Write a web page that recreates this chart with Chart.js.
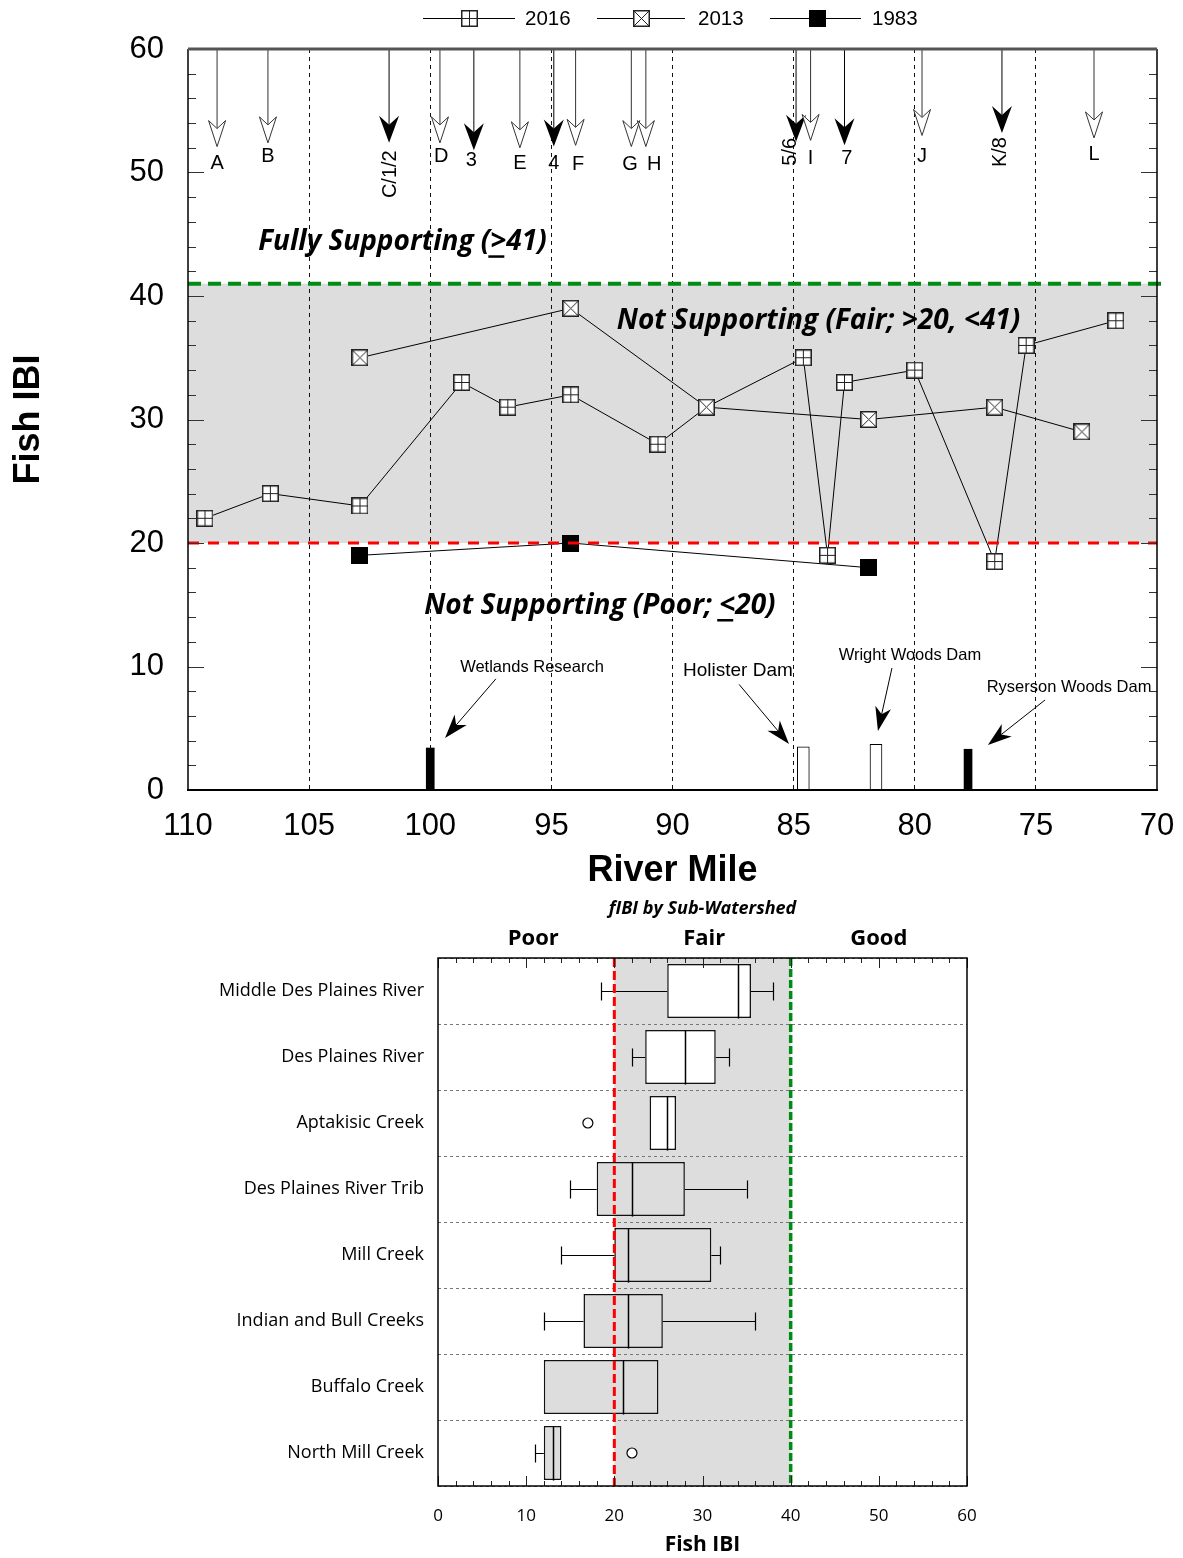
<!DOCTYPE html>
<html><head><meta charset="utf-8"><title>Fish IBI</title>
<script src="https://cdn.jsdelivr.net/npm/chart.js@4.4.1/dist/chart.umd.min.js"></script>
<style>
 html,body{margin:0;padding:0;background:#fff;width:1183px;height:1558px;overflow:hidden}
 canvas{position:absolute;left:0;display:block}
 #c1{top:0} #c2{top:890px}
</style></head><body>
<canvas id="c1" width="1183" height="890"></canvas>
<canvas id="c2" width="1183" height="668"></canvas>
<script>
// ================= DATA : river-mile profile =================
const miles2016 = [109.3, 106.6, 102.9, 98.7, 96.8, 94.2, 90.6, 88.6, 84.6, 83.6, 82.9, 80.0, 76.7, 75.4, 71.7];
const ibi2016   = [22, 24, 23, 33, 31, 32, 28, 31, 35, 19, 33, 34, 18.5, 36, 38];
const miles2013 = [102.9, 94.2, 88.6, 81.9, 76.7, 73.1];
const ibi2013   = [35, 39, 31, 30, 31, 29];
const miles1983 = [102.9, 94.2, 81.9];
const ibi1983   = [19, 20, 18];
const seriesNames = ['2016', '2013', '1983'];

const fairLow = 20, fairHigh = 41;
const zoneText = ['Fully Supporting (>41)', 'Not Supporting (Fair; >20, <41)', 'Not Supporting (Poor; <20)'];
const zoneUnderline = [18, -1, 22];
const zoneMile = [107.1, 92.3, 100.25];
const zoneValue = [43.7, 37.3, 14.25];

const siteLabels = ['A','B','C/1/2','D','3','E','4','F','G','H','5/6','I','7','J','K/8','L'];
const siteMiles  = [108.8,106.7,101.7,99.6,98.2,96.3,94.9,94.0,91.7,91.1,84.9,84.3,82.9,79.7,76.4,72.6];
const siteTips   = [52.1,52.4,52.4,52.4,51.8,52.0,52.1,52.2,52.1,52.1,52.5,52.6,52.2,53.0,53.2,52.8];
const siteFilled = [0,0,1,0,1,0,1,0,0,0,1,0,1,0,1,0];
const siteLabelMiles = [108.8,106.7,101.65,99.55,98.3,96.3,94.9,93.9,91.75,90.75,85.15,84.3,82.8,79.7,76.45,72.6];
const siteLabelValues = [50.77,51.26,51.8,51.26,51.0,50.77,50.77,50.61,50.61,50.61,52.8,51.17,51.17,51.26,52.87,51.42];

const damNames   = ['Wetlands Research', 'Holister Dam', 'Wright Woods Dam', 'Ryserson Woods Dam'];
const damMiles   = [100.0, 84.6, 81.6, 77.8];
const damHeights = [3.4, 3.5, 3.7, 3.3];
const damSolid   = [1, 0, 0, 1];
const damLabelMiles  = [95.8, 87.3, 80.2, 73.63];
const damLabelValues = [9.96, 9.64, 10.93, 8.34];
const damArrowFromMiles  = [97.29, 87.25, 80.94, 74.62];
const damArrowFromValues = [9.0, 8.55, 9.88, 7.29];
const damArrowToMiles    = [99.39, 85.19, 81.52, 76.98];
const damArrowToValues   = [4.21, 3.72, 4.78, 3.64];

// ================= DATA : sub-watershed box plot =================
const watersheds = ['Middle Des Plaines River','Des Plaines River','Aptakisic Creek','Des Plaines River Trib','Mill Creek','Indian and Bull Creeks','Buffalo Creek','North Mill Creek'];
const whiskLow  = [18.5, 22, null, 15, 14, 12, null, 11];
const q1        = [26, 23.5, 24, 18, 20, 16.5, 12, 12];
const median    = [34, 28, 26, 22, 21.5, 21.5, 21, 13];
const q3        = [35.5, 31.5, 27, 28, 31, 25.5, 25, 14];
const whiskHigh = [38, 33, null, 35, 32, 36, null, null];
const outlierGroups = ['Aptakisic Creek', 'North Mill Creek'];
const outlierValues = [17, 22];
const classLabels = ['Poor', 'Fair', 'Good'];
const classCenters = [10.8, 30.2, 50];
const boxFairLow = 20, boxFairHigh = 40;

// ================= helpers =================
const SANS = '"Liberation Sans", Arial, sans-serif';
const OPEN = '"Open Sans", sans-serif';
const BAND = '#dcdddc';

function marker(kind) {
  const s = 17, c = document.createElement('canvas');
  c.width = s; c.height = s;
  const g = c.getContext('2d');
  if (kind === 'solid') { g.fillStyle = '#000'; g.fillRect(0, 0, s, s); return c; }
  g.fillStyle = '#fff'; g.fillRect(1, 1, s - 2, s - 2);
  g.strokeStyle = '#222'; g.lineWidth = 1.5; g.strokeRect(0.75, 0.75, s - 1.5, s - 1.5);
  g.lineWidth = 1; g.beginPath();
  if (kind === 'plus') { g.moveTo(8.5, 1); g.lineTo(8.5, s - 1); g.moveTo(1, 8.5); g.lineTo(s - 1, 8.5); }
  else { g.moveTo(1, 1); g.lineTo(s - 1, s - 1); g.moveTo(s - 1, 1); g.lineTo(1, s - 1); }
  g.stroke();
  return c;
}
const mkPlus = marker('plus'), mkCross = marker('cross'), mkSolid = marker('solid');
const markers = [mkPlus, mkCross, mkSolid];

function stealth(ctx, x1, y1, x2, y2, len, half, notch, filled) {
  const ang = Math.atan2(y2 - y1, x2 - x1);
  const ux = Math.cos(ang), uy = Math.sin(ang), px = -uy, py = ux;
  const bx = x2 - ux * len, by = y2 - uy * len;
  const nx = x2 - ux * (len - notch), ny = y2 - uy * (len - notch);
  ctx.beginPath(); ctx.moveTo(x1, y1); ctx.lineTo(nx, ny); ctx.stroke();
  ctx.beginPath();
  ctx.moveTo(x2, y2); ctx.lineTo(bx + px * half, by + py * half); ctx.lineTo(nx, ny);
  ctx.lineTo(bx - px * half, by - py * half); ctx.closePath();
  ctx.fillStyle = filled ? '#000' : '#fff'; ctx.fill();
  if (!filled) ctx.stroke();
}
const pts = (xs, ys) => xs.map((x, i) => ({x, y: ys[i]}));

// ================= chart 1 plugin =================
const riverPlugin = {
  id: 'river',
  beforeDraw(chart) {
    const {ctx, chartArea: a, scales: {y}} = chart;
    const yt = y.getPixelForValue(fairHigh), yb = y.getPixelForValue(fairLow);
    ctx.save(); ctx.fillStyle = BAND; ctx.fillRect(a.left, yt, a.right - a.left, yb - yt); ctx.restore();
  },
  afterDatasetsDraw(chart) {
    const {ctx, chartArea: a, scales: {x, y}} = chart;
    ctx.save();
    // threshold lines
    ctx.lineCap = 'butt';
    ctx.strokeStyle = '#008a16'; ctx.lineWidth = 4; ctx.setLineDash([13, 7]);
    let yy = y.getPixelForValue(fairHigh);
    ctx.beginPath(); ctx.moveTo(a.left, yy); ctx.lineTo(a.right + 10, yy); ctx.stroke();
    ctx.strokeStyle = '#ff0000'; ctx.lineWidth = 3; ctx.setLineDash([11, 9]);
    yy = y.getPixelForValue(fairLow);
    ctx.beginPath(); ctx.moveTo(a.left, yy); ctx.lineTo(a.right, yy); ctx.stroke();
    ctx.setLineDash([]);

    // zone texts
    ctx.fillStyle = '#000'; ctx.font = 'italic bold 28px ' + OPEN; ctx.textBaseline = 'alphabetic'; ctx.textAlign = 'left';
    zoneText.forEach((t, i) => {
      const px = x.getPixelForValue(zoneMile[i]), py = y.getPixelForValue(zoneValue[i]);
      ctx.fillText(t, px, py);
      const u = zoneUnderline[i];
      if (u >= 0) {
        const off = ctx.measureText(t.slice(0, u)).width, w = ctx.measureText(t[u]).width;
        ctx.fillRect(px + off - 2, py + 5, w, 2.5);
      }
    });

    // site arrows
    const yTop = y.getPixelForValue(60);
    siteLabels.forEach((lab, i) => {
      const px = x.getPixelForValue(siteMiles[i]), tip = y.getPixelForValue(siteTips[i]);
      ctx.strokeStyle = siteFilled[i] ? '#000' : '#333'; ctx.lineWidth = 1;
      if (siteFilled[i]) stealth(ctx, px, yTop, px, tip, 27, 10, 9, true);
      else stealth(ctx, px, yTop, px, tip, 26, 8.5, 8, false);
      ctx.fillStyle = '#000'; ctx.font = '20px ' + SANS;
      const lx = x.getPixelForValue(siteLabelMiles[i]), ly = y.getPixelForValue(siteLabelValues[i]);
      if (lab.includes('/')) {
        ctx.save(); ctx.translate(lx, ly); ctx.rotate(-Math.PI / 2);
        ctx.textAlign = 'right'; ctx.textBaseline = 'middle'; ctx.fillText(lab, 0, 0); ctx.restore();
      } else {
        ctx.textAlign = 'center'; ctx.textBaseline = 'middle'; ctx.fillText(lab, lx, ly);
      }
    });

    // dam labels & arrows
    damNames.forEach((n, i) => {
      ctx.fillStyle = '#000'; ctx.textAlign = 'center'; ctx.textBaseline = 'middle';
      ctx.font = (i === 1 ? '19px ' : '16.5px ') + SANS;
      ctx.fillText(n, x.getPixelForValue(damLabelMiles[i]), y.getPixelForValue(damLabelValues[i]));
      ctx.strokeStyle = '#000'; ctx.lineWidth = 1;
      stealth(ctx, x.getPixelForValue(damArrowFromMiles[i]), y.getPixelForValue(damArrowFromValues[i]),
        x.getPixelForValue(damArrowToMiles[i]), y.getPixelForValue(damArrowToValues[i]), 24, 8, 7, true);
    });

    // minor ticks
    ctx.strokeStyle = '#333'; ctx.lineWidth = 1;
    for (let v = 0; v <= 60; v += 2) {
      const py = Math.round(y.getPixelForValue(v)) + 0.5, len = v % 10 === 0 ? 16 : 8;
      ctx.beginPath(); ctx.moveTo(a.left, py); ctx.lineTo(a.left + len, py);
      ctx.moveTo(a.right, py); ctx.lineTo(a.right - len, py); ctx.stroke();
    }
    // frame
    ctx.strokeStyle = '#000'; ctx.lineWidth = 1.5;
    ctx.beginPath(); ctx.moveTo(a.left, a.top); ctx.lineTo(a.left, a.bottom);
    ctx.moveTo(a.right, a.top); ctx.lineTo(a.right, a.bottom); ctx.stroke();
    ctx.lineWidth = 2; ctx.beginPath(); ctx.moveTo(a.left - 1, a.bottom); ctx.lineTo(a.right + 1, a.bottom); ctx.stroke();
    ctx.strokeStyle = '#555'; ctx.lineWidth = 3; ctx.beginPath(); ctx.moveTo(a.left, a.top); ctx.lineTo(a.right, a.top); ctx.stroke();

    // legend
    const legStart = [423, 597, 770], legEnd = [515, 685, 861], legMark = [469, 641, 817], legText = [525, 698, 872], legY = 18;
    ctx.font = '20.5px ' + SANS; ctx.textAlign = 'left'; ctx.textBaseline = 'middle'; ctx.fillStyle = '#000';
    seriesNames.forEach((s, i) => {
      ctx.strokeStyle = '#000'; ctx.lineWidth = 1;
      ctx.beginPath(); ctx.moveTo(legStart[i], legY + 0.5); ctx.lineTo(legEnd[i], legY + 0.5); ctx.stroke();
      const m = markers[i];
      ctx.drawImage(m, Math.round(legMark[i] - m.width / 2), Math.round(legY - m.height / 2));
      ctx.fillText(s, legText[i], legY + 1);
    });
    ctx.restore();
  }
};

const lineStyle = {showLine: true, borderColor: '#000', borderWidth: 1, pointRadius: 8, pointHoverRadius: 8};
new Chart(document.getElementById('c1'), {
  type: 'scatter',
  data: {
    datasets: [
      Object.assign({label: seriesNames[1], data: pts(miles2013, ibi2013), pointStyle: mkCross, order: 1}, lineStyle),
      Object.assign({label: seriesNames[0], data: pts(miles2016, ibi2016), pointStyle: mkPlus, order: 2}, lineStyle),
      Object.assign({label: seriesNames[2], data: pts(miles1983, ibi1983), pointStyle: mkSolid, order: 3}, lineStyle),
      {type: 'bar', label: 'dams', data: pts(damMiles, damHeights).filter((d, i) => damSolid[i]),
       backgroundColor: '#000', borderWidth: 0, barThickness: 8, grouped: false, order: 4},
      {type: 'bar', label: 'dams open', data: pts(damMiles, damHeights).filter((d, i) => !damSolid[i]),
       backgroundColor: '#fff', borderColor: '#000', borderWidth: 1, barThickness: 12, grouped: false, order: 5}
    ]
  },
  options: {
    responsive: false, animation: false, devicePixelRatio: 1,
    layout: {padding: {top: 49, right: 26, left: 0, bottom: 0}},
    plugins: {legend: {display: false}, tooltip: {enabled: false}},
    scales: {
      x: {type: 'linear', reverse: true, min: 70, max: 110, offset: false,
        ticks: {stepSize: 5, color: '#000', font: {family: SANS, size: 31}, padding: 18, maxRotation: 0},
        grid: {color: c => (c.tick && (c.tick.value === 70 || c.tick.value === 110)) ? 'rgba(0,0,0,0)' : '#111',
               lineWidth: 1, drawTicks: false, offset: false},
        border: {display: false, dash: [4, 4]},
        title: {display: true, text: 'River Mile', color: '#000', font: {family: SANS, size: 36, weight: 'bold'}, padding: {top: 0, bottom: -3}},
        afterFit(s) { s.height = 100; s.paddingLeft = 0; s.paddingRight = 0; }
      },
      y: {type: 'linear', min: 0, max: 60,
        ticks: {stepSize: 10, color: '#000', font: {family: SANS, size: 31}, padding: 16},
        grid: {display: false}, border: {display: false},
        title: {display: true, text: 'Fish IBI', color: '#000', font: {family: SANS, size: 36, weight: 'bold'}, padding: {top: 7, bottom: 0}},
        afterFit(s) { s.width = 188; s.paddingTop = 0; s.paddingBottom = 0; }
      }
    }
  },
  plugins: [riverPlugin]
});

// ================= chart 2 plugin =================
const boxPlugin = {
  id: 'boxes',
  beforeDraw(chart) {
    const {ctx, chartArea: a, scales: {x}} = chart;
    const x1 = x.getPixelForValue(boxFairLow), x2 = x.getPixelForValue(boxFairHigh);
    ctx.save(); ctx.fillStyle = BAND; ctx.fillRect(x1, a.top, x2 - x1, a.bottom - a.top); ctx.restore();
  },
  afterDatasetsDraw(chart) {
    const {ctx, chartArea: a, scales: {x, y}} = chart;
    const meta = chart.getDatasetMeta(0);
    ctx.save();
    ctx.strokeStyle = '#000'; ctx.lineWidth = 1.2;
    watersheds.forEach((w, i) => {
      const cy = Math.round(y.getPixelForValue(i)) + 0.5;
      const bar = meta.data[i], hh = bar.height / 2;
      const mx = Math.round(x.getPixelForValue(median[i])) + 0.5;
      ctx.lineWidth = 1.5;
      ctx.beginPath(); ctx.moveTo(mx, cy - hh); ctx.lineTo(mx, cy + hh); ctx.stroke();
      ctx.lineWidth = 1.2;
      const seg = (from, to) => {
        if (from == null || to == null) return;
        const fx = x.getPixelForValue(from), tx = x.getPixelForValue(to);
        ctx.beginPath(); ctx.moveTo(fx, cy); ctx.lineTo(tx, cy);
        ctx.moveTo(Math.round(fx) + 0.5, cy - 9); ctx.lineTo(Math.round(fx) + 0.5, cy + 9); ctx.stroke();
      };
      seg(whiskLow[i], q1[i]);
      seg(whiskHigh[i], q3[i]);
    });
    let px = x.getPixelForValue(boxFairLow);
    ctx.strokeStyle = '#ff0000'; ctx.lineWidth = 3; ctx.setLineDash([9, 4]);
    ctx.beginPath(); ctx.moveTo(px, a.top); ctx.lineTo(px, a.bottom); ctx.stroke();
    px = x.getPixelForValue(boxFairHigh);
    ctx.strokeStyle = '#008a16'; ctx.lineWidth = 3.5; ctx.setLineDash([8, 3]);
    ctx.beginPath(); ctx.moveTo(px, a.top); ctx.lineTo(px, a.bottom); ctx.stroke();
    ctx.setLineDash([]);
    ctx.strokeStyle = '#222'; ctx.lineWidth = 1;
    for (let v = 0; v <= 60; v += 2) {
      const tx = Math.round(x.getPixelForValue(v)) + 0.5, len = v % 10 === 0 ? 10 : 5;
      ctx.beginPath(); ctx.moveTo(tx, a.top); ctx.lineTo(tx, a.top + len);
      ctx.moveTo(tx, a.bottom); ctx.lineTo(tx, a.bottom - len); ctx.stroke();
    }
    ctx.strokeStyle = '#000'; ctx.lineWidth = 1.5;
    ctx.strokeRect(a.left, a.top, a.right - a.left, a.bottom - a.top);
    ctx.fillStyle = '#000'; ctx.textAlign = 'center'; ctx.textBaseline = 'middle';
    ctx.font = 'italic bold 18px ' + OPEN;
    ctx.fillText('fIBI by Sub-Watershed', (a.left + a.right) / 2, a.top - 49);
    ctx.font = 'bold 22px ' + OPEN;
    classLabels.forEach((c, i) => ctx.fillText(c, x.getPixelForValue(classCenters[i]), a.top - 19));
    ctx.restore();
  }
};

const boxFill = c => c.dataIndex < 3 ? '#ffffff' : BAND;
new Chart(document.getElementById('c2'), {
  type: 'bar',
  data: {
    labels: watersheds,
    datasets: [
      {label: 'box', data: q1.map((v, i) => [v, q3[i]]), backgroundColor: boxFill, borderColor: '#111', borderWidth: 1.5,
       borderSkipped: false, grouped: false, categoryPercentage: 1, barPercentage: 0.82},
      {type: 'scatter', label: 'outliers', data: outlierValues.map((v, i) => ({x: v, y: outlierGroups[i]})),
       pointStyle: 'circle', pointRadius: 5, backgroundColor: '#fff', borderColor: '#000', borderWidth: 1.2}
    ]
  },
  options: {
    indexAxis: 'y', responsive: false, animation: false, devicePixelRatio: 1,
    layout: {padding: {top: 68, right: 216, left: 0, bottom: 0}},
    plugins: {legend: {display: false}, tooltip: {enabled: false}},
    scales: {
      x: {type: 'linear', min: 0, max: 60,
        ticks: {stepSize: 10, color: '#000', font: {family: OPEN, size: 17}, padding: 12},
        grid: {display: false}, border: {display: false},
        title: {display: true, text: 'Fish IBI', color: '#000', font: {family: OPEN, size: 21, weight: 'bold'}, padding: {top: 0, bottom: 0}},
        afterFit(s) { s.height = 72; }
      },
      y: {type: 'category', offset: true,
        ticks: {color: '#000', font: {family: OPEN, size: 18}, padding: 14},
        grid: {color: '#777', lineWidth: 1, drawTicks: false, offset: true},
        border: {display: false, dash: [3, 3]},
        afterFit(s) { s.width = 438; }
      }
    }
  },
  plugins: [boxPlugin]
});
</script>
</body></html>
